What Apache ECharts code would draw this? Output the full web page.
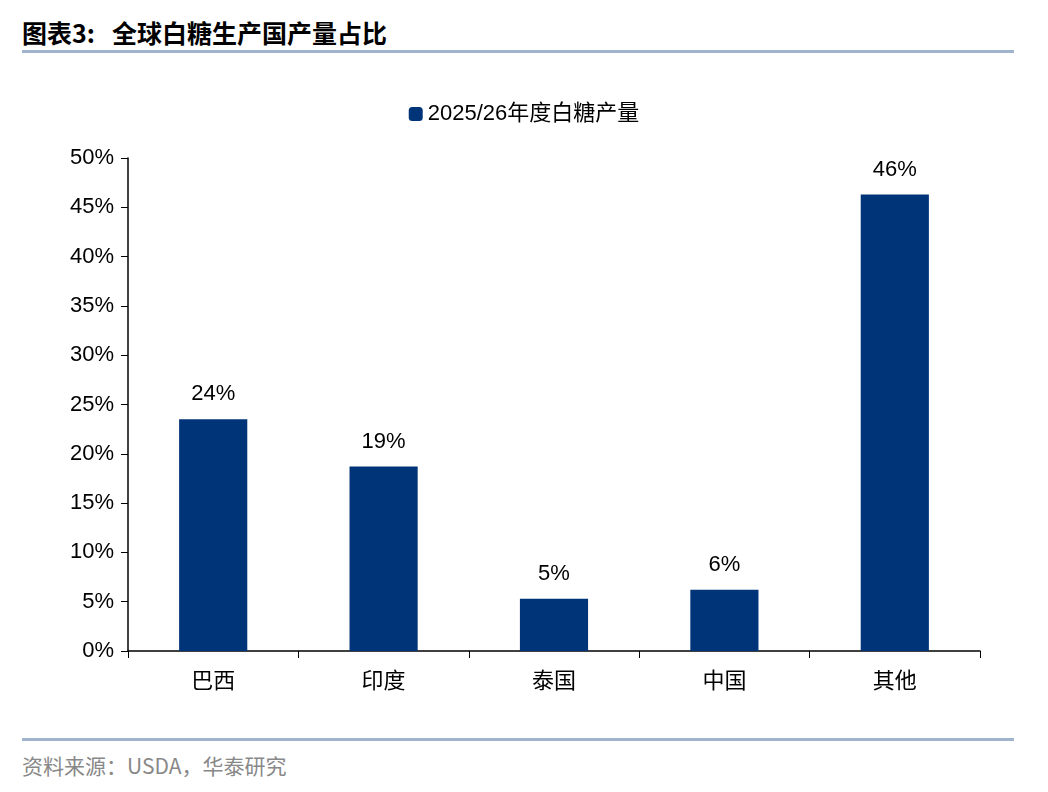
<!DOCTYPE html>
<html>
<head>
<meta charset="utf-8">
<script src="https://cdn.jsdelivr.net/npm/echarts@6/dist/echarts.min.js"></script>
<style>
body{margin:0;background:#fff;font-family:"Noto Sans CJK SC",sans-serif;}
#title{position:absolute;left:22px;top:14px;font-size:25px;font-weight:bold;color:#000;}
.line{position:absolute;left:22px;width:992px;height:3px;background:#9fb3cc;}
#src{position:absolute;left:22px;top:750px;font-size:21px;color:#888;}
#chart{position:absolute;left:0;top:60px;width:1048px;height:680px;}
</style>
</head>
<body>
<div id="title">图表3:&nbsp;&nbsp;&nbsp;全球白糖生产国产量占比</div>
<div class="line" style="top:50px"></div>
<div id="chart"></div>
<div class="line" style="top:738px"></div>
<div id="src">资料来源：USDA，华泰研究</div>
<script>
var categories = ['巴西', '印度', '泰国', '中国', '其他'];
var shareValues = [23.5, 18.7, 5.3, 6.2, 46.3];
var seriesName = '2025/26年度白糖产量';

var chart = echarts.init(document.getElementById('chart'));
chart.setOption({
    animation: false,
    legend: {
        top: 38,
        left: 'center',
        itemWidth: 14,
        itemHeight: 14,
        textStyle: {fontSize: 22, color: '#000', fontFamily: 'Liberation Sans, Noto Sans CJK SC'},
        data: [seriesName]
    },
    grid: {left: 128, right: 68, top: 98, bottom: 89},
    xAxis: {
        type: 'category',
        data: categories,
        axisLine: {lineStyle: {color: '#000', width: 1.5}},
        axisTick: {show: true, length: 7, lineStyle: {color: '#000'}},
        axisLabel: {fontSize: 22, color: '#000', margin: 18, fontFamily: 'Noto Sans CJK SC'}
    },
    yAxis: {
        type: 'value',
        min: 0, max: 50, interval: 5,
        axisLine: {show: true, lineStyle: {color: '#000', width: 1.5}},
        axisTick: {show: true, length: 7, inside: false, lineStyle: {color: '#000'}},
        splitLine: {show: false},
        axisLabel: {fontSize: 22, color: '#000', margin: 14, fontFamily: 'Liberation Sans', formatter: '{value}%'}
    },
    series: [{
        name: seriesName,
        type: 'bar',
        barWidth: '40%',
        itemStyle: {color: '#003479'},
        label: {
            show: true, position: 'top', distance: 14,
            fontSize: 22, color: '#000', fontFamily: 'Liberation Sans',
            formatter: function (p) { return Math.round(p.value) + '%'; }
        },
        data: shareValues
    }]
});
</script>
</body>
</html>
